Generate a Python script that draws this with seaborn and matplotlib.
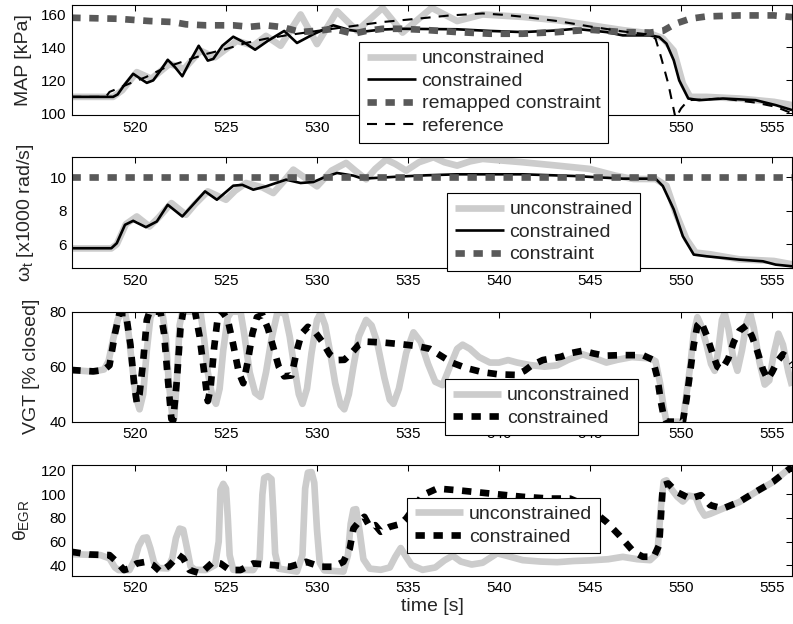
import numpy as np
import pandas as pd
import matplotlib
matplotlib.use('Agg')
import matplotlib.pyplot as plt
import seaborn as sns

# ---- MAP [kPa] ----
map_unc_t = [516.5, 518.8, 519.3, 520.1, 520.9, 521.9, 522.7, 523.6, 524.4, 525.6, 526.5, 527.2,
             528.0, 529.1, 530.0, 531.1, 532.2, 533.6, 534.7, 536.3, 537.7, 539.1, 541.3, 543.2,
             545.0, 546.8, 548.3, 549.0, 549.6, 550.1, 550.5, 551.4, 553.2, 555.1, 556.1]
map_unc_v = [110, 110, 114, 125, 121, 130, 127, 138, 134, 144, 141, 147,
             141, 160, 142, 162, 150, 164, 149, 164, 156, 160, 158.5, 156.5,
             153.5, 150.5, 148.5, 145.5, 138, 118, 110, 110, 109, 107, 105]

map_con_t = [516.5, 518.8, 519.05, 519.4, 519.9, 520.3, 520.65, 521.0, 521.4, 521.8, 522.2, 522.6,
             523.0, 523.5, 524.0, 524.3, 524.8, 525.4, 526.0, 526.6, 527.3, 528.2, 528.9, 529.8,
             530.9, 531.8, 532.5, 533.5, 534.6, 537.7, 539.5, 541.3, 543.2, 544.2, 545.9, 546.8,
             548.3, 548.8, 549.2, 549.6, 549.9, 550.4, 551.0, 552.3, 554.1, 555.2, 556.1]
map_con_v = [110, 110, 111.5, 117, 124, 121, 118.5, 120, 126, 132.5, 128, 122.5,
             131, 141, 132, 133, 141, 146.5, 143, 138.6, 144, 150, 142.7, 148,
             153.4, 150.5, 149.5, 150.8, 151.3, 151, 150, 149.3, 150.3, 151.3, 149.3, 147.3,
             147.3, 146.3, 142.3, 132.2, 120, 109, 108, 109, 108, 105, 102]

map_lim_t = [516.5, 519.0, 520.8, 522.1, 522.8, 523.9, 525.4, 526.3, 527.2, 528.1, 529.1, 530.2,
             530.9, 532.0, 532.7, 533.6, 534.6, 535.8, 537.7, 539.5, 541.3, 543.2, 545.0, 546.8,
             548.3, 549.0, 549.7, 550.5, 551.4, 553.2, 555.1, 556.1]
map_lim_v = [158, 157.4, 156, 155.4, 154, 153.4, 153.4, 152.5, 153.4, 152.3, 149.3, 150.3,
             151.3, 148.3, 150, 151.3, 151.3, 150.7, 149.3, 148.3, 148.3, 149.3, 150.7, 149.3,
             149, 150, 154.4, 157.4, 158.8, 159.4, 159.4, 158.4]

map_ref_t = [516.5, 518.4, 518.6, 519.9, 520.6, 521.7, 522.8, 523.9, 525.0, 526.1, 527.2, 528.3,
             530.0, 531.8, 533.6, 535.5, 537.3, 539.1, 540.2, 541.3, 543.2, 545.0, 546.8, 548.1,
             548.6, 548.9, 549.3, 549.7, 550.0, 550.4, 552.3, 554.1, 555.2, 556.1]
map_ref_v = [110, 110, 113, 119, 122, 128, 132, 136, 139, 142.7, 145.3, 147.3,
             150, 152.7, 155.4, 157.4, 159.4, 160.6, 159.8, 158.6, 156, 152.7, 149.7, 148,
             145.3, 134.2, 118, 97, 103, 108, 109, 106.5, 104, 100]

# ---- omega_t [x1000 rad/s] ----
om_unc_t = [516.5, 518.7, 519.0, 519.5, 520.1, 520.8, 521.3, 522.0, 522.8, 523.3, 524.0, 525.0,
            525.5, 526.1, 527.0, 527.6, 528.2, 528.7, 529.3, 530.0, 530.8, 531.6, 532.1, 532.7,
            533.2, 533.8, 534.3, 534.9, 535.6, 536.4, 537.0, 537.7, 538.4, 539.1, 540.2, 541.3,
            543.2, 545.0, 546.4, 547.4, 548.6, 549.2, 549.7, 550.3, 550.8, 551.6, 553.2, 555.1, 556.1]
om_unc_v = [5.75, 5.75, 6.0, 7.2, 7.66, 7.06, 7.6, 8.46, 7.76, 8.4, 9.16, 8.66,
            9.2, 9.66, 9.4, 9.06, 9.8, 10.46, 10.0, 9.46, 10.4, 10.86, 10.4, 9.88,
            10.5, 11.06, 10.8, 10.4, 10.9, 11.2, 10.9, 10.7, 10.95, 11.1, 11.0, 10.9,
            10.7, 10.5, 10.1, 9.9, 9.9, 9.5, 7.9, 6.3, 5.5, 5.4, 5.1, 5.0, 4.8]

om_con_t = [516.5, 518.7, 519.0, 519.45, 519.9, 520.6, 521.2, 521.8, 522.6, 523.1, 523.85, 524.5,
            525.4, 525.9, 526.5, 527.2, 528.3, 529.1, 529.8, 530.4, 531.1, 532.0, 532.5, 533.5,
            534.6, 536.0, 537.7, 541.3, 544.1, 546.8, 548.6, 549.0, 549.6, 550.1, 550.7, 551.4,
            553.2, 554.5, 555.2, 556.1]
om_con_v = [5.76, 5.76, 6.06, 7.16, 7.4, 7.02, 7.36, 8.36, 7.66, 8.26, 9.16, 8.66,
            9.5, 9.55, 9.26, 9.46, 9.86, 9.66, 9.72, 10.0, 10.26, 10.1, 9.92, 9.98,
            10.05, 10.12, 10.18, 10.18, 10.08, 9.92, 9.92, 9.48, 8.08, 6.48, 5.38, 5.28,
            5.08, 4.98, 4.78, 4.68]

om_lim_t = [516.5, 556.1]
om_lim_v = [10, 10]

# ---- VGT [% closed] ----
vgt_unc_t = [516.5, 517.7, 518.3, 518.55, 518.8, 519.05, 519.25, 519.45, 519.65, 519.85, 520.05, 520.25,
             520.45, 520.65, 520.85, 521.0, 521.5, 521.7, 521.85, 522.05, 522.15, 522.3, 522.45, 522.6,
             523.6, 523.8, 524.0, 524.25, 524.45, 524.65, 524.85, 525.1, 525.3, 525.8, 526.0, 526.3,
             526.6, 526.9, 527.2, 527.5, 527.8, 528.0, 528.25, 528.5, 528.75, 529.0, 529.2, 529.45,
             529.7, 530.0, 530.2, 530.45, 530.7, 531.0, 531.3, 531.5, 531.75, 532.0, 532.3, 532.7,
             533.0, 533.3, 533.7, 534.0, 534.2, 534.5, 534.9, 535.3, 535.7, 536.1, 536.5, 536.9,
             537.3, 537.7, 538.0, 538.4, 538.9, 539.5, 540.0, 540.5, 541.0, 541.7, 542.5, 543.2,
             543.8, 544.6, 545.3, 545.9, 546.5, 547.3, 548.3, 548.6, 548.85, 549.05, 549.2, 550.1,
             550.3, 550.5, 550.7, 550.9, 551.1, 551.4, 551.65, 551.85, 552.05, 552.25, 552.4, 552.6,
             552.85, 553.1, 553.35, 553.6, 553.8, 554.0, 554.3, 554.6, 554.85, 555.1, 555.35, 555.6,
             555.9, 556.1]
vgt_unc_v = [58.8, 58.2, 59.0, 62, 70, 77, 80, 80, 72, 60, 49, 44.5,
             50, 66, 78, 80, 80, 70, 55, 42, 41, 55, 75, 80,
             80, 70, 58, 49, 46.5, 52, 66, 78, 80, 80, 72, 58,
             50.5, 49, 58, 70, 79, 80, 79, 71, 60, 50, 46.5, 52,
             65, 77, 79.5, 75, 66, 54, 46, 44.5, 50, 60, 71, 77,
             75, 69, 56, 48, 46.5, 52, 65, 72.5, 69, 61, 54.5, 53.3,
             60, 66.5, 68, 66.5, 63.5, 61.5, 61.5, 62.4, 61.5, 60.6, 60, 60.5,
             62.5, 64.5, 63, 61.5, 62.5, 63.5, 63, 62, 54, 45, 40, 40,
             50, 60, 72, 78, 75, 68, 61, 58.5, 66, 77, 79.5, 74,
             64, 58.5, 66, 76, 79.5, 74, 62, 53.5, 55, 65, 72, 68,
             58, 53]

vgt_con_t = [516.5, 517.7, 518.3, 518.6, 518.9, 519.15, 519.5, 519.75, 519.95, 520.1, 520.25, 520.45,
             520.65, 520.8, 521.4, 521.6, 521.8, 522.0, 522.1, 522.3, 522.5, 522.65, 523.3, 523.55,
             523.8, 524.0, 524.15, 524.35, 524.55, 524.8, 525.1, 525.4, 525.7, 525.95, 526.2, 526.45,
             526.7, 527.0, 527.3, 527.6, 527.9, 528.2, 528.6, 528.9, 529.15, 529.5, 529.85, 530.3,
             530.7, 531.1, 531.5, 531.9, 532.3, 532.7, 533.6, 534.6, 535.5, 536.2, 536.8, 537.4,
             538.2, 539.1, 540.0, 540.95, 541.4, 541.8, 542.4, 543.4, 544.0, 544.6, 545.2, 545.8,
             546.7, 547.9, 548.45, 548.7, 548.9, 549.05, 549.2, 550.1, 550.3, 550.5, 550.7, 550.9,
             551.1, 551.4, 551.75, 552.0, 552.25, 552.6, 552.9, 553.2, 553.6, 553.9, 554.2, 554.5,
             554.75, 555.0, 555.3, 555.6, 555.85, 556.1]
vgt_con_v = [58.8, 58.3, 58.8, 60.5, 72, 79.5, 79.5, 68, 54, 47, 50, 62,
             77, 80, 80, 72, 56, 41, 40.5, 55, 74, 80, 80, 71,
             58, 47.5, 52, 67, 78, 80, 77, 68, 58, 54, 62, 72,
             78, 78.8, 74, 67, 60, 56.5, 56.8, 66, 72, 74.5, 73, 69,
             64.5, 62.4, 62.5, 65, 68, 69.1, 68.8, 68.2, 67.5, 66.5, 64, 61.5,
             59.5, 58, 57.2, 57, 58.5, 60.5, 62.4, 63.6, 65, 65.8, 64.8, 64,
             64.2, 64.2, 62.5, 56, 47, 42, 40, 40, 48, 58, 68, 75,
             76.4, 71.5, 64.5, 60, 59, 63, 69, 73, 75, 71, 65.5, 59,
             55.5, 58, 62, 64.5, 63.5, 61.5]

# ---- theta_EGR ----
egr_unc_t = [516.5, 518.1, 518.6, 518.9, 519.1, 519.7, 520.0, 520.2, 520.45, 520.65, 520.85, 521.05,
             521.3, 521.8, 522.05, 522.25, 522.45, 522.65, 522.85, 523.05, 523.3, 523.9, 524.4, 524.6,
             524.7, 524.85, 525.0, 525.1, 525.2, 525.4, 526.5, 526.85, 527.0, 527.1, 527.3, 527.5,
             527.6, 527.7, 527.9, 528.9, 529.2, 529.35, 529.5, 529.7, 529.85, 530.0, 530.15, 530.4,
             531.45, 531.7, 531.85, 532.0, 532.15, 532.35, 532.55, 532.9, 533.5, 534.0, 534.3, 534.6,
             534.9, 535.2, 535.8, 536.5, 537.0, 537.45, 537.9, 538.5, 539.1, 539.6, 539.9, 540.4,
             541.3, 542.3, 543.2, 544.1, 545.0, 546.0, 546.8, 547.6, 548.3, 548.7, 548.9, 549.05,
             549.2, 549.4, 549.8, 550.1, 550.4, 550.8, 551.05, 551.3, 551.6, 552.3, 553.2, 554.1,
             555.05, 556.1]
egr_unc_v = [49.3, 48.5, 45.7, 38, 35.8, 35.8, 45, 56, 63, 63.5, 54, 42,
             37.5, 37.2, 46, 63, 71, 70, 55, 39, 36, 35.8, 40, 60,
             104, 109, 105, 80, 48.5, 36, 35.8, 45, 100, 114, 115.5, 113,
             85, 50, 37, 34.5, 48.5, 105, 118.5, 119, 110, 70, 42, 35.5,
             34.5, 48.5, 75, 87, 87.5, 68, 45, 37, 36, 38, 47, 54.5,
             47, 40, 36, 38, 44, 48, 43, 40.5, 42, 47, 50, 48,
             44.2, 43, 42.5, 43.5, 44, 45, 47, 45, 44.2, 50, 90, 111,
             112, 106, 98, 94, 99, 98, 88, 82, 83.5, 88, 93.5, 102,
             110.5, 124]

egr_con_t = [516.5, 517.5, 518.6, 519.0, 519.4, 519.7, 520.1, 520.6, 521.0, 521.4, 521.9, 522.4,
             522.65, 523.0, 523.6, 524.3, 524.7, 525.2, 525.8, 526.5, 527.6, 528.5, 529.4, 530.2,
             530.9, 531.45, 531.8, 532.0, 532.3, 532.6, 532.9, 533.2, 533.5, 534.0, 534.6, 534.9,
             535.4, 535.8, 536.6, 537.7, 539.5, 541.3, 542.8, 543.9, 544.5, 545.0, 545.9, 546.6,
             547.4, 547.9, 548.5, 548.8, 549.0, 549.3, 549.75, 550.5, 551.1, 551.6, 552.3, 553.2,
             554.1, 555.05, 556.1]
egr_con_v = [51.3, 49, 48.5, 42.8, 35.8, 37.2, 41.4, 42.8, 40, 34.3, 40, 48.5,
             45.7, 35.8, 32.9, 42.8, 41.4, 35.8, 35.8, 41.4, 40, 38.6, 42.8, 38.6,
             38.6, 42.8, 54, 71, 76.7, 81, 72.5, 73.9, 68.3, 72.5, 75, 79.6,
             90, 99.4, 105, 103.6, 100.8, 98, 96.5, 96.5, 92.5, 88, 76.7, 65.4,
             51.3, 47.1, 47.1, 57, 107.8, 109.3, 102.2, 96.5, 99.4, 90.9, 88, 93.7,
             102.2, 110.7, 123.4]

# ---- styles ----
light = (0.8, 0.8, 0.8)
dark = (0.35, 0.35, 0.35)
thick_dash = (0, (1.4, 1.3))
thin_dash = (0, (4.8, 3.9))

sns.set_style('white')
plt.rcParams['font.family'] = ['Liberation Sans', 'DejaVu Sans']
plt.rcParams['mathtext.fontset'] = 'custom'
plt.rcParams['mathtext.rm'] = 'Liberation Sans'
plt.rcParams['mathtext.it'] = 'Liberation Sans'
plt.rcParams['mathtext.bf'] = 'Liberation Sans:bold'

fig = plt.figure(figsize=(7.93, 6.24), dpi=100)
rects = [
    [0.0908, 0.8157, 0.908, 0.177],
    [0.0908, 0.570, 0.908, 0.178],
    [0.0908, 0.3242, 0.908, 0.1763],
    [0.0908, 0.0774, 0.908, 0.1774],
]
axes = [fig.add_axes(r) for r in rects]


def draw(ax, t, v, color, lw, ls, label):
    df = pd.DataFrame({'t': t, 'v': v})
    sns.lineplot(data=df, x='t', y='v', ax=ax, color=color, linewidth=lw,
                 linestyle=ls, label=label, estimator=None, sort=False,
                 errorbar=None, legend=False, solid_capstyle='butt',
                 dash_capstyle='butt')


ax1, ax2, ax3, ax4 = axes
draw(ax1, map_unc_t, map_unc_v, light, 4.8, '-', 'unconstrained')
draw(ax1, map_con_t, map_con_v, 'black', 1.9, '-', 'constrained')
draw(ax1, map_lim_t, map_lim_v, dark, 4.8, thick_dash, 'remapped constraint')
draw(ax1, map_ref_t, map_ref_v, 'black', 1.5, thin_dash, 'reference')

draw(ax2, om_unc_t, om_unc_v, light, 4.8, '-', 'unconstrained')
draw(ax2, om_con_t, om_con_v, 'black', 1.9, '-', 'constrained')
draw(ax2, om_lim_t, om_lim_v, dark, 4.8, thick_dash, 'constraint')

draw(ax3, vgt_unc_t, vgt_unc_v, light, 4.8, '-', 'unconstrained')
draw(ax3, vgt_con_t, vgt_con_v, 'black', 4.8, thick_dash, 'constrained')

draw(ax4, egr_unc_t, egr_unc_v, light, 4.8, '-', 'unconstrained')
draw(ax4, egr_con_t, egr_con_v, 'black', 4.8, thick_dash, 'constrained')

xticks = [520, 525, 530, 535, 540, 545, 550, 555]
ylims = [(99, 166), (4.56, 11.2), (40, 80), (31, 125)]
yticks = [[100, 120, 140, 160], [6, 8, 10], [40, 60, 80], [40, 60, 80, 100, 120]]
ylabels = ['MAP [kPa]', r'$\omega_t$ [x1000 rad/s]', 'VGT [% closed]', r'$\theta_{EGR}$']
label_x = [-0.056, -0.05, -0.044, -0.057]
leg_pos = [(0.399, 0.661), (0.521, 0.678), (0.518, 0.388), (0.465, 0.705)]

for ax, yl, yt, lab, lx, lp in zip(axes, ylims, yticks, ylabels, label_x, leg_pos):
    ax.set_xlim(516.54, 556.1)
    ax.set_ylim(*yl)
    ax.set_yticks(yt)
    ax.set_xticks(xticks)
    ax.tick_params(direction='in', length=4, width=0.75, top=True, right=True,
                   labelsize=11, pad=4, colors='black')
    for s in ax.spines.values():
        s.set_visible(True)
        s.set_color('black')
        s.set_linewidth(0.8)
    ax.set_ylabel(lab, fontsize=14)
    ax.yaxis.set_label_coords(lx, 0.5)
    ax.set_xlabel('')
    leg = ax.legend(loc='upper left', bbox_to_anchor=lp, borderaxespad=0,
                    fontsize=14, handlelength=2.5, handletextpad=0.3,
                    borderpad=0.4, labelspacing=0.25, fancybox=False,
                    framealpha=1, edgecolor='black')
    leg.get_frame().set_linewidth(0.8)

# tick labels hidden under the top legend are not shown in the original
ax1.set_xticklabels(['' if x in (535, 540, 545) else str(x) for x in xticks])

ax4.set_xlabel('time [s]', fontsize=14, labelpad=2)

fig.savefig('out.png', dpi=100)
